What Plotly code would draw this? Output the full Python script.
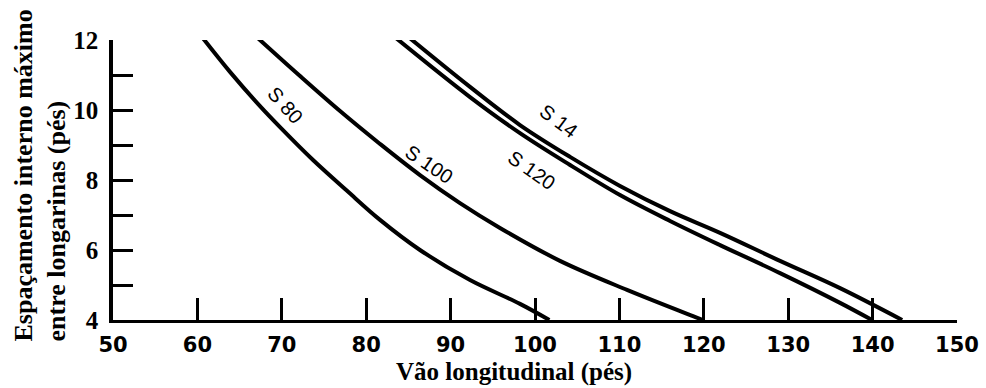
import plotly.graph_objects as go

# ---- data ----
s80_x = [60.66, 63.86, 67.42, 69.79, 73.70, 77.73, 81.64, 86.37, 92.30, 98.22, 101.7]
s80_y = [12.05, 11.09, 10.11, 9.51, 8.57, 7.69, 6.86, 6.00, 5.14, 4.46, 4.0]

s100_x = [67.18, 72.16, 76.90, 81.64, 86.37, 91.11, 95.85, 102.96, 110.90, 118.72, 119.91]
s100_y = [12.05, 10.97, 9.97, 9.03, 8.14, 7.34, 6.63, 5.69, 4.86, 4.11, 4.0]

s120_x = [83.41, 92.30, 98.22, 104.15, 110.07, 116.0, 121.92, 129.03, 136.14, 139.93]
s120_y = [12.08, 10.37, 9.34, 8.43, 7.57, 6.83, 6.14, 5.34, 4.49, 4.0]

s14_x = [84.83, 92.30, 98.22, 104.15, 110.07, 116.0, 121.92, 129.03, 136.14, 143.5]
s14_y = [12.12, 10.66, 9.57, 8.66, 7.83, 7.11, 6.49, 5.69, 4.91, 4.0]

curve_labels = ["S 80", "S 100", "S 14", "S 120"]
label_x = [70.4, 87.4, 102.8, 99.6]
label_y = [10.15, 8.45, 9.68, 8.3]
label_angle = [48, 34, 37, 35]

x_ticks = [50, 60, 70, 80, 90, 100, 110, 120, 130, 140, 150]
x_ticktext = [str(v) for v in x_ticks]
y_ticks = [4, 5, 6, 7, 8, 9, 10, 11, 12]
y_ticktext = ["4", "", "6", "", "8", "", "10", "", "12"]

x_title = "Vão longitudinal (pés)"
y_title = "Espaçamento interno máximo<br>entre longarinas (pés)"

# ---- figure ----
fig = go.Figure()
for xs, ys in [(s80_x, s80_y), (s100_x, s100_y), (s120_x, s120_y), (s14_x, s14_y)]:
    fig.add_trace(go.Scatter(
        x=xs, y=ys, mode="lines",
        line=dict(color="black", width=4, shape="spline", smoothing=1.0),
        cliponaxis=False, showlegend=False, hoverinfo="skip"))

for t, lx, ly, ang in zip(curve_labels, label_x, label_y, label_angle):
    fig.add_annotation(x=lx, y=ly, xref="x", yref="y", text=t, showarrow=False,
                       textangle=ang,
                       font=dict(family="Liberation Sans Narrow, Liberation Sans, DejaVu Sans",
                                 size=20, color="black"))

L, R, T, B = 113, 29, 40, 68
W, H = 986, 388
pw = W - L - R
ph = H - T - B

fig.add_annotation(xref="paper", yref="paper",
                   x=(514 - L) / pw, y=(H - B - 357) / ph,
                   xanchor="center", yanchor="top", showarrow=False,
                   text=x_title, borderpad=0,
                   font=dict(family="Liberation Serif, Times New Roman, serif",
                             size=25, color="black", weight="bold"))

fig.add_annotation(xref="paper", yref="paper",
                   x=(39.5 - L) / pw, y=(H - B - 344) / ph,
                   xanchor="center", yanchor="bottom", showarrow=False,
                   textangle=-90, align="left",
                   text=y_title,
                   font=dict(family="Liberation Serif, Times New Roman, serif",
                             size=26, color="black", weight="bold"))

fig.update_layout(
    width=W, height=H,
    margin=dict(l=L, r=R, t=T, b=B, autoexpand=False),
    plot_bgcolor="white", paper_bgcolor="white",
    showlegend=False,
)
fig.update_xaxes(
    range=[50, 150], tickvals=x_ticks, ticktext=x_ticktext, automargin=False,
    ticks="inside", ticklen=22, tickwidth=2.5, tickcolor="black",
    showline=True, linewidth=3, linecolor="black",
    showgrid=False, zeroline=False, ticklabelstandoff=4,
    tickfont=dict(family="DejaVu Sans, sans-serif", size=21, color="black", weight="bold"),
)
fig.update_yaxes(
    range=[4, 12], tickvals=y_ticks, ticktext=y_ticktext, automargin=False,
    ticks="inside", ticklen=20, tickwidth=2.5, tickcolor="black",
    showline=True, linewidth=3.5, linecolor="black",
    showgrid=False, zeroline=False, ticklabelstandoff=6,
    tickfont=dict(family="Liberation Serif, Times New Roman, serif", size=25, color="black", weight="bold"),
)

fig.write_html("out.html", config={"displayModeBar": False},
               post_script="document.body.style.margin='0';document.body.style.overflow='hidden';")
